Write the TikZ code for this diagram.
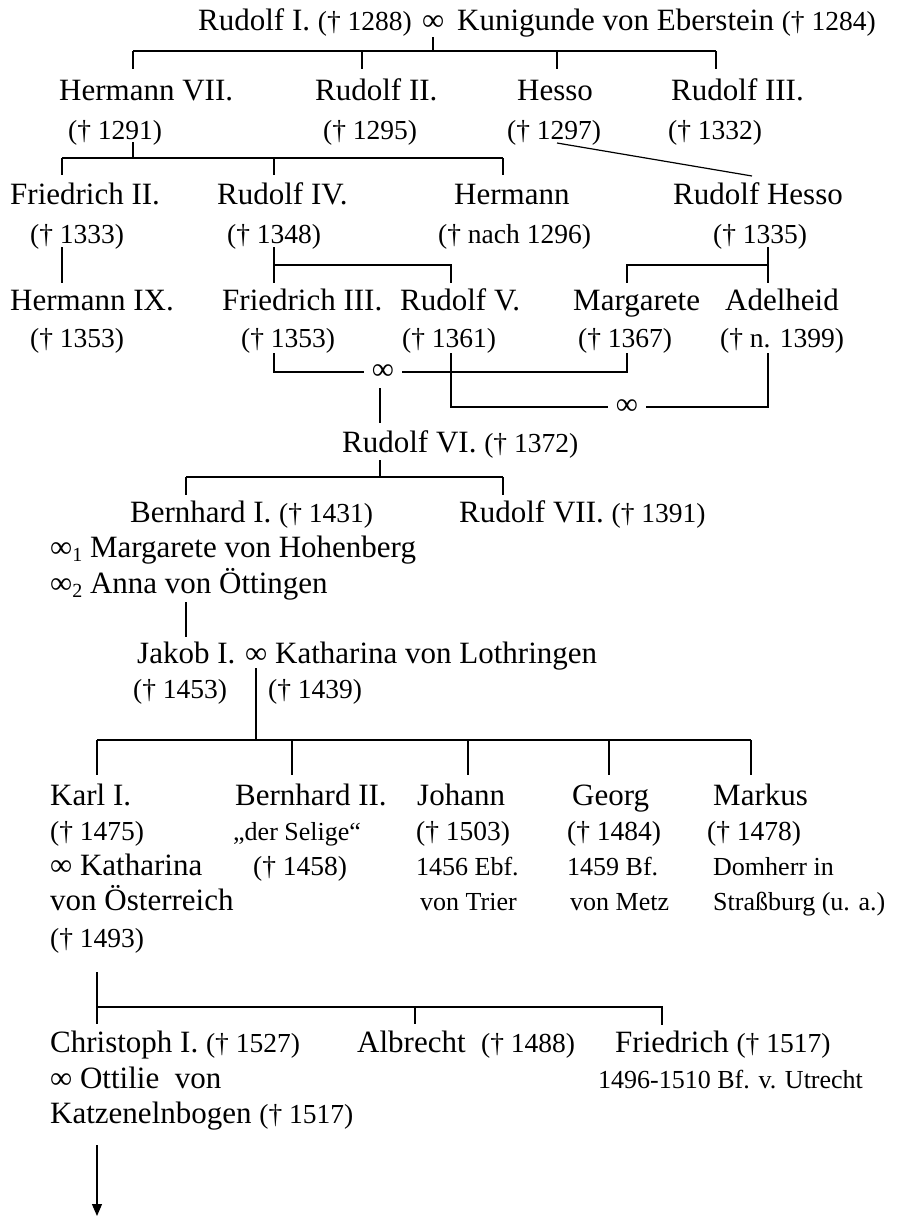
\documentclass[tikz,border=0pt]{standalone}
\usepackage{fontspec}
\setmainfont{Liberation Serif}
\usetikzlibrary{arrows.meta}
\newcommand{\nmf}{\fontsize{31}{37}\selectfont}
\newcommand{\smf}{\fontsize{26}{31}\selectfont}
\newcommand{\dtf}{\fontsize{27.5}{32}\selectfont}
\newcommand{\tod}[1]{{\dtf(† #1)}}
\newcommand{\subn}[1]{\raisebox{-0.35ex}{\fontsize{20}{24}\selectfont #1}}
\begin{document}
\begin{tikzpicture}[x=1pt,y=-1pt,
  nm/.style={anchor=base west,inner sep=0pt,font=\nmf},
  sm/.style={anchor=base west,inner sep=0pt,font=\smf},
  dt/.style={anchor=base west,inner sep=0pt,font=\dtf},
  ln/.style={line width=1.2pt},
  mar/.style={inner sep=0pt,inner xsep=8pt,font=\nmf}]
\useasboundingbox[fill=white] (0,0) rectangle (898,1216);

% ---------- Row 1
\node[nm] (r1) at (198,30) {Rudolf I. \tod{1288}};
\node[nm] (inf1) at (422,30) {∞};
\node[nm] (kun) at (457,30) {Kunigunde von Eberstein \tod{1284}};

% ---------- Row 2
\node[nm] (h7) at (59,100) {Hermann VII.};
\node[nm] (r2) at (315,100) {Rudolf II.};
\node[nm] (hes) at (517,100) {Hesso};
\node[nm] (r3) at (671,100) {Rudolf III.};
\node[dt] (h7d) at (68,139) {(† 1291)};
\node[dt] (r2d) at (323,139) {(† 1295)};
\node[dt] (hesd) at (507,139) {(† 1297)};
\node[dt] (r3d) at (668,139) {(† 1332)};

% ---------- Row 3
\node[nm] (f2) at (10,204) {Friedrich II.};
\node[nm] (r4) at (217,204) {Rudolf IV.};
\node[nm] (hm) at (454,204) {Hermann};
\node[nm] (rh) at (673,204) {Rudolf Hesso};
\node[dt] (f2d) at (30,243) {(† 1333)};
\node[dt] (r4d) at (227,243) {(† 1348)};
\node[dt] (hmd) at (438,243) {(† nach 1296)};
\node[dt] (rhd) at (713,243) {(† 1335)};

% ---------- Row 4
\node[nm] (h9) at (10,310) {Hermann IX.};
\node[nm] (f3) at (222,310) {Friedrich III.};
\node[nm] (r5) at (400,310) {Rudolf V.};
\node[nm] (mg) at (573,310) {Margarete};
\node[nm] (ad) at (725,310) {Adelheid};
\node[dt] (h9d) at (30,347) {(† 1353)};
\node[dt] (f3d) at (241,347) {(† 1353)};
\node[dt] (r5d) at (402,347) {(† 1361)};
\node[dt] (mgd) at (578,347) {(† 1367)};
\node[dt] (add) at (720,347) {(† n. 1399)};

% marriage symbols
\node[mar] (m1) at (383,372) {∞};
\node[mar] (m2) at (627,407) {∞};

% ---------- Row 5
\node[nm] (r6) at (342,452) {Rudolf VI. \tod{1372}};

% ---------- Row 6
\node[nm] (b1) at (130,522) {Bernhard I. \tod{1431}};
\node[nm] (r7) at (459,522) {Rudolf VII. \tod{1391}};
\node[nm] (b1a) at (50,557) {∞\subn{1} Margarete von Hohenberg};
\node[nm] (b1b) at (50,593) {∞\subn{2} Anna von Öttingen};

% ---------- Row 7
\node[nm] (j1) at (137,663) {Jakob I.};
\node[nm] (jinf) at (245,663) {∞};
\node[nm] (kl) at (275,663) {Katharina von Lothringen};
\node[dt] (j1d) at (133,698) {(† 1453)};
\node[dt] (kld) at (268,698) {(† 1439)};

% ---------- Row 8
\node[nm] (k1) at (50,805) {Karl I.};
\node[nm] (b2) at (235,805) {Bernhard II.};
\node[nm] (jo) at (417,805) {Johann};
\node[nm] (ge) at (572,805) {Georg};
\node[nm] (mk) at (713,805) {Markus};
\node[dt] (k1d) at (50,840) {(† 1475)};
\node[sm] (b2s) at (233,840) {„der Selige“};
\node[dt] (jod) at (416,840) {(† 1503)};
\node[dt] (ged) at (567,840) {(† 1484)};
\node[dt] (mkd) at (707,840) {(† 1478)};
\node[nm] (k1m) at (50,875) {∞ Katharina};
\node[dt] (b2d) at (253,875) {(† 1458)};
\node[sm] (jo1) at (416,875) {1456 Ebf.};
\node[sm] (ge1) at (567,875) {1459 Bf.};
\node[sm] (mk1) at (713,875) {Domherr in};
\node[nm] (k1n) at (50,910) {von Österreich};
\node[sm] (jo2) at (420,910) {von Trier};
\node[sm] (ge2) at (570,910) {von Metz};
\node[sm] (mk2) at (713,910) {Straßburg (u. a.)};
\node[dt] (k1e) at (50,947) {(† 1493)};

% ---------- Row 9
\node[nm] (ch) at (50,1052) {Christoph I. \tod{1527}};
\node[nm] (al) at (357,1052) {Albrecht\ \ \tod{1488}};
\node[nm] (fr) at (615,1052) {Friedrich \tod{1517}};
\node[nm] (ch1) at (50,1088) {∞ Ottilie\ \ von};
\node[sm] (fr1) at (598,1088) {1496-1510 Bf. v. Utrecht};
\node[nm] (ch2) at (50,1123) {Katzenelnbogen \tod{1517}};

% ---------- connector points
\coordinate (p1) at (433,37);
\coordinate (p1h) at (433,51);
\coordinate (h7t) at (133,69);
\coordinate (r2t) at (362,69);
\coordinate (hest) at (557,69);
\coordinate (r3t) at (716,69);

\coordinate (h7b) at (133,142);
\coordinate (h7h) at (133,158);
\coordinate (f2t) at (62,175);
\coordinate (r4t) at (274,175);
\coordinate (hmt) at (503,175);
\coordinate (hesb) at (557,143);
\coordinate (rht) at (752,176);

\coordinate (f2b) at (62,247);
\coordinate (h9t) at (62,283);
\coordinate (r4b) at (274,247);
\coordinate (r4h) at (274,265);
\coordinate (f3t) at (274,283);
\coordinate (r5t) at (451,283);
\coordinate (rhb) at (768,247);
\coordinate (rhh) at (768,265);
\coordinate (mgt) at (627,283);
\coordinate (adt) at (768,283);

\coordinate (f3b) at (274,353);
\coordinate (mgb) at (627,353);
\coordinate (r5b) at (451,353);
\coordinate (adb) at (768,353);
\coordinate (m1b) at (380,388);
\coordinate (r6t) at (380,423);

\coordinate (r6b) at (380,460);
\coordinate (r6h) at (380,477);
\coordinate (b1t) at (186,495);
\coordinate (r7t) at (503,495);

\coordinate (b1e) at (186,602);
\coordinate (j1t) at (186,637);

\coordinate (jm) at (256,668);
\coordinate (jh) at (256,740);
\coordinate (k1t) at (97,775);
\coordinate (b2t) at (292,775);
\coordinate (jot) at (468,775);
\coordinate (get) at (609,775);
\coordinate (mkt) at (751,775);

\coordinate (k1b) at (97,972);
\coordinate (k1h) at (97,1007);
\coordinate (cht) at (97,1024);
\coordinate (alt) at (415,1024);
\coordinate (frt) at (662,1025);

\coordinate (chb) at (97,1145);
\coordinate (chend) at (97,1216);

% ---------- connectors
\draw[ln] (p1) -- (p1h);
\draw[ln] (h7t |- p1h) -- (r3t |- p1h);
\foreach \t in {h7t,r2t,hest,r3t} \draw[ln] (\t |- p1h) -- (\t);

\draw[ln] (h7b) -- (h7h);
\draw[ln] (f2t |- h7h) -- (hmt |- h7h);
\foreach \t in {f2t,r4t,hmt} \draw[ln] (\t |- h7h) -- (\t);
\draw[ln] (hesb) -- (rht);

\draw[ln] (f2b) -- (h9t);
\draw[ln] (r4b) -- (f3t);
\draw[ln] (r4h) -- (r5t |- r4h) -- (r5t);
\draw[ln] (rhb) -- (adt);
\draw[ln] (rhh) -- (mgt |- rhh) -- (mgt);

\draw[ln] (f3b) |- (m1.west);
\draw[ln] (m1.east) -| (mgb);
\draw[ln] (r5b) |- (m2.west);
\draw[ln] (m2.east) -| (adb);
\draw[ln] (m1b) -- (r6t);

\draw[ln] (r6b) -- (r6h);
\draw[ln] (b1t |- r6h) -- (r7t |- r6h);
\foreach \t in {b1t,r7t} \draw[ln] (\t |- r6h) -- (\t);

\draw[ln] (b1e) -- (j1t);

\draw[ln] (jm) -- (jh);
\draw[ln] (k1t |- jh) -- (mkt |- jh);
\foreach \t in {k1t,b2t,jot,get,mkt} \draw[ln] (\t |- jh) -- (\t);

\draw[ln] (k1b) -- (cht);
\draw[ln] (k1h) -- (frt |- k1h) -- (frt);
\draw[ln] (alt |- k1h) -- (alt);

\draw[ln,-{Triangle[length=12pt,width=10pt]}] (chb) -- (chend);
\end{tikzpicture}
\end{document}
